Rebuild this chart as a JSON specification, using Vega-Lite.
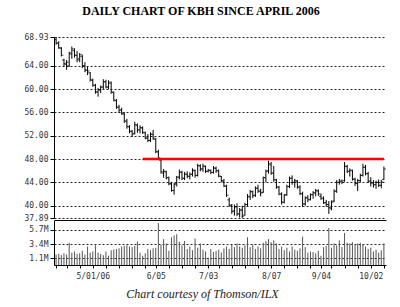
{
  "$schema": "https://vega.github.io/schema/vega-lite/v6.json",
  "background": "white",
  "padding": {"left": 23, "top": 5, "right": 5, "bottom": 5},
  "title": {"text": "DAILY CHART OF KBH SINCE APRIL 2006", "font": "Liberation Serif", "fontSize": 12, "fontWeight": "bold", "color": "#000", "anchor": "middle", "offset": 15, "dx": -4},
  "bounds": "flush",
  "spacing": 2,
  "config": {
    "view": {"stroke": null},
    "axis": {"domainColor": "#000", "tickColor": "#000", "labelFont": "DejaVu Sans Mono", "labelFontSize": 8, "labelColor": "#333", "gridColor": "#000", "gridDash": [2, 2], "gridOpacity": 0.85, "labelOverlap": false}
  },
  "datasets": {
    "px": [
      {"d": "2006-04-10", "o": 68.5, "h": 68.93, "l": 67.6, "c": 67.9, "v": 1.7},
      {"d": "2006-04-11", "o": 67.9, "h": 68.2, "l": 66.9, "c": 67.1, "v": 1.8},
      {"d": "2006-04-12", "o": 67.0, "h": 67.2, "l": 65.6, "c": 65.8, "v": 1.6},
      {"d": "2006-04-13", "o": 65.0, "h": 65.2, "l": 63.9, "c": 64.4, "v": 1.9},
      {"d": "2006-04-17", "o": 64.2, "h": 65.0, "l": 63.3, "c": 64.6, "v": 1.7},
      {"d": "2006-04-18", "o": 64.0, "h": 66.4, "l": 63.8, "c": 66.2, "v": 3.6},
      {"d": "2006-04-19", "o": 66.0, "h": 67.3, "l": 65.2, "c": 66.9, "v": 2.0},
      {"d": "2006-04-20", "o": 66.6, "h": 67.0, "l": 65.4, "c": 65.8, "v": 2.2},
      {"d": "2006-04-21", "o": 65.8, "h": 66.5, "l": 64.6, "c": 65.0, "v": 1.8},
      {"d": "2006-04-24", "o": 65.2, "h": 66.2, "l": 64.6, "c": 65.9, "v": 1.9},
      {"d": "2006-04-25", "o": 65.6, "h": 65.9, "l": 63.6, "c": 64.0, "v": 2.3},
      {"d": "2006-04-26", "o": 64.0, "h": 64.6, "l": 62.9, "c": 63.2, "v": 1.7},
      {"d": "2006-04-27", "o": 63.3, "h": 63.8, "l": 62.4, "c": 63.1, "v": 3.0},
      {"d": "2006-04-28", "o": 62.8, "h": 62.9, "l": 61.3, "c": 61.6, "v": 2.0},
      {"d": "2006-05-01", "o": 61.5, "h": 61.8, "l": 60.4, "c": 60.7, "v": 2.2},
      {"d": "2006-05-02", "o": 60.6, "h": 60.9, "l": 59.2, "c": 59.5, "v": 3.2},
      {"d": "2006-05-03", "o": 59.5, "h": 60.2, "l": 58.7, "c": 59.9, "v": 2.0},
      {"d": "2006-05-04", "o": 59.8, "h": 60.6, "l": 59.3, "c": 60.3, "v": 1.8},
      {"d": "2006-05-05", "o": 60.4, "h": 61.7, "l": 60.0, "c": 61.3, "v": 1.6},
      {"d": "2006-05-08", "o": 61.2, "h": 61.6, "l": 60.1, "c": 60.4, "v": 2.2},
      {"d": "2006-05-09", "o": 60.3, "h": 61.5, "l": 60.0, "c": 61.2, "v": 1.5},
      {"d": "2006-05-10", "o": 61.0, "h": 61.3, "l": 59.2, "c": 59.5, "v": 2.4},
      {"d": "2006-05-11", "o": 59.4, "h": 59.6, "l": 57.9, "c": 58.1, "v": 2.5},
      {"d": "2006-05-12", "o": 58.0, "h": 58.3, "l": 56.6, "c": 56.9, "v": 2.6},
      {"d": "2006-05-15", "o": 56.9, "h": 57.3, "l": 55.9, "c": 56.4, "v": 2.7},
      {"d": "2006-05-16", "o": 56.4, "h": 56.8, "l": 55.6, "c": 55.8, "v": 3.0},
      {"d": "2006-05-17", "o": 55.7, "h": 56.0, "l": 54.2, "c": 54.5, "v": 3.1},
      {"d": "2006-05-18", "o": 54.5, "h": 54.9, "l": 53.2, "c": 53.6, "v": 3.2},
      {"d": "2006-05-19", "o": 53.5, "h": 53.8, "l": 52.4, "c": 52.8, "v": 3.0},
      {"d": "2006-05-22", "o": 52.7, "h": 53.0, "l": 51.8, "c": 52.3, "v": 2.9},
      {"d": "2006-05-23", "o": 52.4, "h": 54.4, "l": 52.2, "c": 53.9, "v": 3.1},
      {"d": "2006-05-24", "o": 53.8, "h": 54.1, "l": 52.5, "c": 53.0, "v": 3.8},
      {"d": "2006-05-25", "o": 53.0, "h": 53.8, "l": 52.4, "c": 53.4, "v": 2.0},
      {"d": "2006-05-26", "o": 53.3, "h": 53.6, "l": 52.3, "c": 52.6, "v": 1.5},
      {"d": "2006-05-30", "o": 52.5, "h": 52.7, "l": 51.4, "c": 51.6, "v": 1.9},
      {"d": "2006-05-31", "o": 51.6, "h": 52.3, "l": 50.9, "c": 51.2, "v": 2.6},
      {"d": "2006-06-01", "o": 51.2, "h": 52.6, "l": 50.9, "c": 52.3, "v": 2.4},
      {"d": "2006-06-02", "o": 52.2, "h": 53.0, "l": 51.3, "c": 51.6, "v": 2.7},
      {"d": "2006-06-05", "o": 51.4, "h": 51.6, "l": 49.0, "c": 49.3, "v": 2.8},
      {"d": "2006-06-06", "o": 49.2, "h": 49.6, "l": 47.9, "c": 48.2, "v": 6.8},
      {"d": "2006-06-07", "o": 47.8, "h": 47.9, "l": 45.5, "c": 45.8, "v": 3.3},
      {"d": "2006-06-08", "o": 45.6, "h": 46.3, "l": 44.8, "c": 45.9, "v": 4.2},
      {"d": "2006-06-09", "o": 45.8, "h": 46.0, "l": 44.5, "c": 44.8, "v": 3.5},
      {"d": "2006-06-12", "o": 44.8, "h": 45.0, "l": 43.5, "c": 43.8, "v": 2.3},
      {"d": "2006-06-13", "o": 43.7, "h": 44.1, "l": 42.4, "c": 42.6, "v": 4.5},
      {"d": "2006-06-14", "o": 42.6, "h": 43.9, "l": 41.9, "c": 43.6, "v": 4.8},
      {"d": "2006-06-15", "o": 43.8, "h": 45.1, "l": 43.3, "c": 44.9, "v": 5.0},
      {"d": "2006-06-16", "o": 44.9, "h": 46.2, "l": 44.5, "c": 45.8, "v": 3.8},
      {"d": "2006-06-19", "o": 45.7, "h": 46.0, "l": 44.4, "c": 44.7, "v": 3.2},
      {"d": "2006-06-20", "o": 44.7, "h": 45.8, "l": 44.4, "c": 45.4, "v": 3.9},
      {"d": "2006-06-21", "o": 45.4, "h": 45.9, "l": 44.7, "c": 45.1, "v": 2.6},
      {"d": "2006-06-22", "o": 45.0, "h": 45.7, "l": 44.5, "c": 45.4, "v": 3.0},
      {"d": "2006-06-23", "o": 45.4, "h": 46.4, "l": 45.0, "c": 46.1, "v": 2.4},
      {"d": "2006-06-26", "o": 46.0, "h": 46.2, "l": 44.8, "c": 45.2, "v": 4.3},
      {"d": "2006-06-27", "o": 45.2, "h": 47.2, "l": 45.0, "c": 46.9, "v": 2.8},
      {"d": "2006-06-28", "o": 46.8, "h": 47.1, "l": 45.9, "c": 46.3, "v": 3.5},
      {"d": "2006-06-29", "o": 46.3, "h": 47.2, "l": 45.8, "c": 46.8, "v": 2.5},
      {"d": "2006-06-30", "o": 46.7, "h": 46.9, "l": 45.6, "c": 45.9, "v": 2.2},
      {"d": "2006-07-03", "o": 45.9, "h": 46.3, "l": 45.7, "c": 46.1, "v": 1.2},
      {"d": "2006-07-05", "o": 46.0, "h": 46.2, "l": 45.4, "c": 45.7, "v": 2.6},
      {"d": "2006-07-06", "o": 45.7, "h": 46.8, "l": 45.5, "c": 46.5, "v": 2.1},
      {"d": "2006-07-07", "o": 46.4, "h": 46.7, "l": 45.6, "c": 46.0, "v": 2.3},
      {"d": "2006-07-10", "o": 46.0, "h": 46.2, "l": 44.9, "c": 45.1, "v": 2.5},
      {"d": "2006-07-11", "o": 45.0, "h": 45.1, "l": 44.0, "c": 44.3, "v": 2.0},
      {"d": "2006-07-12", "o": 44.2, "h": 44.6, "l": 43.2, "c": 43.4, "v": 2.7},
      {"d": "2006-07-13", "o": 43.3, "h": 43.6, "l": 41.5, "c": 41.8, "v": 3.0},
      {"d": "2006-07-14", "o": 41.0, "h": 41.4, "l": 39.8, "c": 40.1, "v": 2.6},
      {"d": "2006-07-17", "o": 40.0, "h": 40.3, "l": 38.6, "c": 39.0, "v": 3.3},
      {"d": "2006-07-18", "o": 39.1, "h": 40.2, "l": 38.3, "c": 39.8, "v": 2.9},
      {"d": "2006-07-19", "o": 39.8, "h": 40.4, "l": 38.2, "c": 38.6, "v": 3.5},
      {"d": "2006-07-20", "o": 38.6, "h": 39.6, "l": 37.95, "c": 39.3, "v": 3.0},
      {"d": "2006-07-21", "o": 39.2, "h": 40.0, "l": 37.89, "c": 38.2, "v": 2.8},
      {"d": "2006-07-24", "o": 38.4, "h": 40.5, "l": 38.3, "c": 40.2, "v": 3.2},
      {"d": "2006-07-25", "o": 40.2, "h": 42.0, "l": 39.9, "c": 41.6, "v": 4.5},
      {"d": "2006-07-26", "o": 41.5, "h": 42.7, "l": 41.0, "c": 42.4, "v": 2.9},
      {"d": "2006-07-27", "o": 42.4, "h": 42.6, "l": 41.3, "c": 41.7, "v": 3.3},
      {"d": "2006-07-28", "o": 41.8, "h": 43.3, "l": 41.5, "c": 43.0, "v": 2.6},
      {"d": "2006-07-31", "o": 43.0, "h": 43.6, "l": 42.2, "c": 42.5, "v": 3.0},
      {"d": "2006-08-01", "o": 42.5, "h": 42.9, "l": 41.6, "c": 42.2, "v": 2.7},
      {"d": "2006-08-02", "o": 42.3, "h": 45.0, "l": 42.2, "c": 44.8, "v": 3.6},
      {"d": "2006-08-03", "o": 44.8, "h": 46.2, "l": 44.0, "c": 45.9, "v": 3.9},
      {"d": "2006-08-04", "o": 46.0, "h": 47.7, "l": 45.5, "c": 47.2, "v": 4.2},
      {"d": "2006-08-07", "o": 47.0, "h": 47.5, "l": 45.3, "c": 45.6, "v": 3.7},
      {"d": "2006-08-08", "o": 45.6, "h": 46.8, "l": 44.1, "c": 44.5, "v": 4.0},
      {"d": "2006-08-09", "o": 44.4, "h": 44.6, "l": 42.9, "c": 43.2, "v": 3.5},
      {"d": "2006-08-10", "o": 43.2, "h": 43.4, "l": 41.8, "c": 42.0, "v": 2.6},
      {"d": "2006-08-11", "o": 42.0, "h": 42.3, "l": 40.2, "c": 40.6, "v": 3.0},
      {"d": "2006-08-14", "o": 40.6, "h": 42.0, "l": 40.4, "c": 41.8, "v": 2.4},
      {"d": "2006-08-15", "o": 41.9, "h": 43.6, "l": 41.7, "c": 43.3, "v": 2.8},
      {"d": "2006-08-16", "o": 43.3, "h": 45.0, "l": 43.0, "c": 44.7, "v": 2.2},
      {"d": "2006-08-17", "o": 44.7, "h": 45.2, "l": 43.6, "c": 44.0, "v": 3.0},
      {"d": "2006-08-18", "o": 44.0, "h": 44.6, "l": 43.1, "c": 44.3, "v": 2.5},
      {"d": "2006-08-21", "o": 44.2, "h": 44.4, "l": 42.9, "c": 43.2, "v": 2.3},
      {"d": "2006-08-22", "o": 43.2, "h": 43.5, "l": 41.8, "c": 42.1, "v": 2.7},
      {"d": "2006-08-23", "o": 42.0, "h": 42.4, "l": 39.8, "c": 40.3, "v": 4.6},
      {"d": "2006-08-24", "o": 40.3, "h": 41.6, "l": 40.0, "c": 41.4, "v": 2.9},
      {"d": "2006-08-25", "o": 41.3, "h": 41.8, "l": 40.6, "c": 41.0, "v": 2.0},
      {"d": "2006-08-28", "o": 41.1, "h": 42.1, "l": 40.9, "c": 41.9, "v": 2.2},
      {"d": "2006-08-29", "o": 41.9, "h": 42.5, "l": 41.2, "c": 42.2, "v": 2.1},
      {"d": "2006-08-30", "o": 42.2, "h": 42.9, "l": 41.6, "c": 42.6, "v": 1.9},
      {"d": "2006-08-31", "o": 42.5, "h": 42.8, "l": 41.7, "c": 42.0, "v": 2.3},
      {"d": "2006-09-05", "o": 41.6, "h": 42.1, "l": 41.0, "c": 41.3, "v": 1.5},
      {"d": "2006-09-06", "o": 41.2, "h": 41.6, "l": 40.3, "c": 40.5, "v": 2.9},
      {"d": "2006-09-07", "o": 40.5, "h": 41.0, "l": 39.8, "c": 40.2, "v": 3.1},
      {"d": "2006-09-08", "o": 40.2, "h": 40.8, "l": 38.6, "c": 39.7, "v": 6.0},
      {"d": "2006-09-11", "o": 39.5, "h": 40.9, "l": 39.2, "c": 40.6, "v": 2.8},
      {"d": "2006-09-12", "o": 40.8, "h": 42.8, "l": 40.6, "c": 42.5, "v": 3.5},
      {"d": "2006-09-13", "o": 42.5, "h": 44.4, "l": 42.2, "c": 44.0, "v": 3.2},
      {"d": "2006-09-14", "o": 44.0, "h": 44.6, "l": 43.6, "c": 44.2, "v": 4.0},
      {"d": "2006-09-15", "o": 44.2, "h": 44.5, "l": 43.7, "c": 44.0, "v": 2.9},
      {"d": "2006-09-18", "o": 44.3, "h": 47.5, "l": 44.1, "c": 46.8, "v": 5.2},
      {"d": "2006-09-19", "o": 46.7, "h": 47.0, "l": 45.6, "c": 45.9, "v": 3.6},
      {"d": "2006-09-20", "o": 45.9, "h": 46.4, "l": 45.0, "c": 46.1, "v": 3.5},
      {"d": "2006-09-21", "o": 46.0, "h": 46.2, "l": 44.3, "c": 44.6, "v": 3.7},
      {"d": "2006-09-22", "o": 44.5, "h": 44.8, "l": 43.4, "c": 43.8, "v": 3.3},
      {"d": "2006-09-25", "o": 43.8, "h": 44.6, "l": 42.5, "c": 44.3, "v": 3.5},
      {"d": "2006-09-26", "o": 44.3, "h": 45.5, "l": 44.0, "c": 45.2, "v": 3.6},
      {"d": "2006-09-27", "o": 45.2, "h": 47.2, "l": 45.0, "c": 46.6, "v": 3.4},
      {"d": "2006-09-28", "o": 46.6, "h": 47.0, "l": 45.2, "c": 45.5, "v": 3.0},
      {"d": "2006-09-29", "o": 45.5, "h": 45.8, "l": 43.9, "c": 44.2, "v": 2.6},
      {"d": "2006-10-02", "o": 44.2, "h": 44.9, "l": 43.3, "c": 43.9, "v": 2.8},
      {"d": "2006-10-03", "o": 43.9, "h": 44.4, "l": 43.1, "c": 43.6, "v": 2.2},
      {"d": "2006-10-04", "o": 43.6, "h": 44.3, "l": 42.9, "c": 44.0, "v": 2.5},
      {"d": "2006-10-05", "o": 44.0, "h": 44.5, "l": 43.2, "c": 43.5, "v": 2.0},
      {"d": "2006-10-06", "o": 43.5, "h": 44.4, "l": 43.0, "c": 44.1, "v": 2.4},
      {"d": "2006-10-09", "o": 44.5, "h": 46.7, "l": 44.4, "c": 46.3, "v": 3.5}
    ],
    "res": [{"d1": "2006-05-26", "d2": "2006-10-09", "p": 48}]
  },
  "vconcat": [
    {
      "width": 332,
      "height": 181,
      "data": {"name": "px"},
      "layer": [
        {
          "mark": {"type": "rule", "color": "#000", "strokeWidth": 1},
          "encoding": {
            "x": {"field": "d", "type": "ordinal", "scale": {"type": "point", "padding": 0.8},
                  "axis": {"labels": false, "ticks": false, "domain": true, "offset": 2, "title": null, "grid": false}},
            "y": {"field": "l", "type": "quantitative", "scale": {"domain": [37.89, 68.93], "nice": false, "zero": false},
                  "axis": {"values": [37.89, 40, 44, 48, 52, 56, 60, 64, 68.93], "tickCount": 20, "format": ".2f", "grid": true, "tickSize": 4, "labelPadding": 2, "labelOverlap": false, "title": null}},
            "y2": {"field": "h"}
          }
        },
        {
          "mark": {"type": "tick", "orient": "horizontal", "color": "#000", "size": 2, "thickness": 1, "xOffset": -1},
          "encoding": {
            "x": {"field": "d", "type": "ordinal"},
            "y": {"field": "o", "type": "quantitative"}
          }
        },
        {
          "mark": {"type": "tick", "orient": "horizontal", "color": "#000", "size": 2, "thickness": 1, "xOffset": 1},
          "encoding": {
            "x": {"field": "d", "type": "ordinal"},
            "y": {"field": "c", "type": "quantitative"}
          }
        },
        {
          "data": {"name": "res"},
          "mark": {"type": "rule", "color": "#ff0000", "strokeWidth": 2.5},
          "encoding": {
            "x": {"field": "d1", "type": "ordinal"},
            "x2": {"field": "d2"},
            "y": {"field": "p", "type": "quantitative"}
          }
        }
      ]
    },
    {
      "width": 332,
      "height": 45,
      "data": {"name": "px"},
      "mark": {"type": "rule", "color": "#555", "strokeWidth": 1},
      "encoding": {
        "x": {"field": "d", "type": "ordinal", "scale": {"type": "point", "padding": 0.8},
              "axis": {"values": ["2006-04-10", "2006-04-17", "2006-04-24", "2006-05-01", "2006-05-08", "2006-05-15", "2006-05-22", "2006-05-30", "2006-06-05", "2006-06-12", "2006-06-19", "2006-06-26", "2006-07-03", "2006-07-10", "2006-07-17", "2006-07-24", "2006-07-31", "2006-08-07", "2006-08-14", "2006-08-21", "2006-08-28", "2006-09-05", "2006-09-11", "2006-09-18", "2006-09-25", "2006-10-02", "2006-10-09"],
                       "labelExpr": "datum.value == '2006-05-01' ? '5/01/06' : datum.value == '2006-06-05' ? '6/05' : datum.value == '2006-07-03' ? '7/03' : datum.value == '2006-08-07' ? '8/07' : datum.value == '2006-09-05' ? '9/04' : datum.value == '2006-10-02' ? '10/02' : ''",
                       "labelOverlap": false, "labelAngle": 0, "tickSize": 3, "labelPadding": 4,
                       "title": "Chart courtesy of Thomson/ILX", "titleFont": "Liberation Serif", "titleFontStyle": "italic", "titleFontWeight": "normal", "titleFontSize": 12, "titleColor": "#222", "titlePadding": 8, "titleX": 148, "titleAlign": "center"}},
        "y": {"field": "v", "type": "quantitative", "scale": {"domain": [0, 7.3], "nice": false},
              "axis": {"values": [1.1, 3.4, 5.7], "tickCount": 10, "labelExpr": "format(datum.value, '.1f') + 'M'", "grid": true, "tickSize": 4, "labelPadding": 2, "labelOverlap": false, "title": null}},
        "y2": {"datum": 0}
      }
    }
  ]
}
